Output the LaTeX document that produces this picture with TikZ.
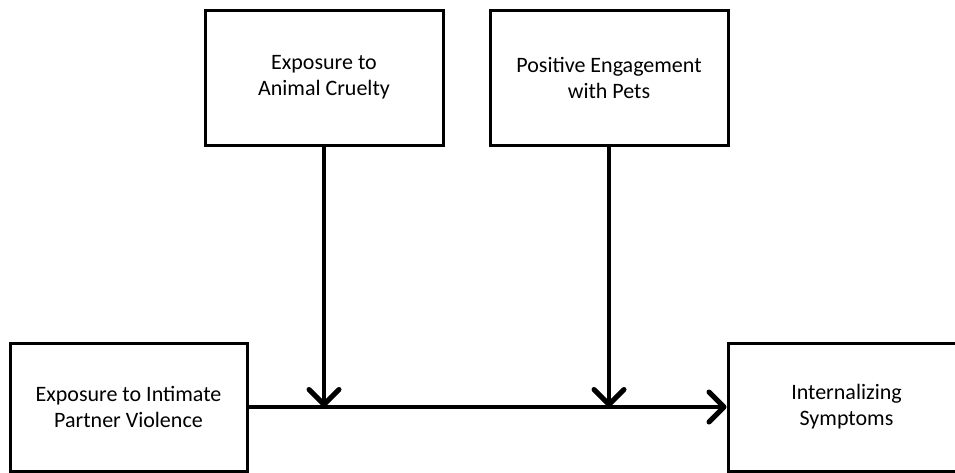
\documentclass[tikz,border=0pt]{standalone}
\usepackage{fontspec}
\setmainfont{Carlito}
\usetikzlibrary{arrows.meta}
\begin{document}
\begin{tikzpicture}[x=1pt,y=-1pt,
  box/.style={draw=black,line width=3pt,fill=white,minimum width=238pt,minimum height=135pt,align=center,font=\fontsize{22}{26}\selectfont,inner sep=0pt},
  arr/.style={line width=4.5pt,-{Straight Barb[length=15pt,width=30pt,line width=5pt,round]}}]
\useasboundingbox (0,0) rectangle (955,472);
\fill[white] (0,0) rectangle (955,472);
\node[box] (ac) at (324,77.5) {Exposure to\\Animal Cruelty};
\node[box] (pe) at (609,77.5) {Positive Engagement\\with Pets};
\node[box,minimum width=237pt,minimum height=128pt] (ipv) at (128.5,407) {Exposure to Intimate\\Partner Violence};
\node[box,minimum width=237pt,minimum height=128pt] (is) at (846.5,407) {Internalizing\\Symptoms};
\coordinate (m1) at (ac.south |- ipv.east);
\coordinate (m2) at (pe.south |- ipv.east);
\draw[arr] (ipv.east) -- (is.west);
\draw[arr] (ac.south) -- (m1);
\draw[arr] (pe.south) -- (m2);
\end{tikzpicture}
\end{document}
